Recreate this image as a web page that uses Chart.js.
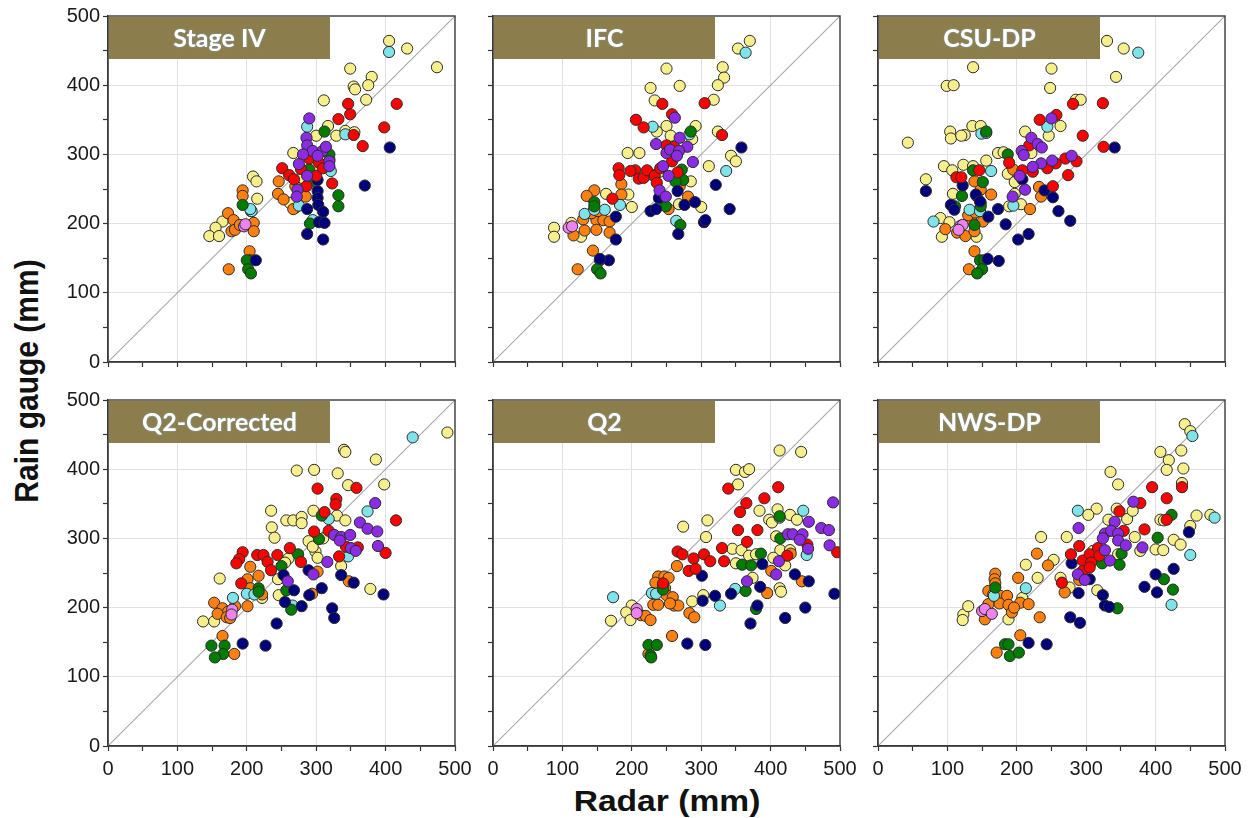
<!DOCTYPE html>
<html><head><meta charset="utf-8">
<script src="https://cdn.jsdelivr.net/npm/chart.js@4/dist/chart.umd.min.js"></script>
<style>
body{margin:0;background:#fff;width:1255px;height:818px;overflow:hidden;position:relative;font-family:"Liberation Sans",Arial,sans-serif}
canvas{position:absolute}
.yt{position:absolute;left:27px;top:381px;transform:translate(-50%,-50%) scaleX(1.12) rotate(-90deg);font-weight:bold;font-size:30px;white-space:nowrap;color:#111}
.xt{position:absolute;left:667px;top:801px;transform:translate(-50%,-50%) scaleX(1.12);font-weight:bold;font-size:30px;white-space:nowrap;color:#111}
</style></head><body>
<div class="yt">Rain gauge (mm)</div>
<div class="xt">Radar (mm)</div>
<script>
// ---- data: [radar, gauge] pairs, per panel and per color group ----
const panelTitles = ['Stage IV','IFC','CSU-DP','Q2-Corrected','Q2','NWS-DP'];
const axisTicks = [0,100,200,300,400,500];

const SIV_yellow=[[405,464],[431,453],[474,426],[349,424],[354,398],[356,394],[380,412],[375,400],[372,379],[311,378],[342,334],[355,332],[329,327],[317,341],[300,327],[267,302],[209,268],[214,261],[215,236],[165,203],[155,194],[146,182],[160,182],[270,223],[280,266],[295,281],[319,293],[262,230],[308,300]];
const SIV_cyan=[[405,448],[342,329],[287,340],[207,218],[205,221],[275,226],[321,276],[295,205]];
const SIV_red=[[346,373],[332,351],[349,358],[354,328],[416,373],[398,339],[367,312],[323,258],[251,280],[261,270],[268,264],[290,294],[304,288],[278,279],[300,269],[286,254],[310,280]];
const SIV_purple=[[290,352],[286,324],[287,313],[295,305],[309,305],[314,311],[281,300],[275,286],[319,290],[319,283],[287,269],[273,249],[272,239],[302,298]];
const SIV_navy=[[406,310],[370,255],[302,263],[302,247],[302,237],[303,227],[287,221],[310,217],[304,202],[312,201],[287,185],[310,177],[213,147]];
const SIV_green=[[312,333],[319,300],[290,278],[291,260],[332,241],[332,225],[291,200],[194,227],[205,147],[200,147],[202,134],[206,128]];
const SIV_orange=[[194,248],[194,240],[173,215],[181,205],[210,201],[206,218],[178,189],[183,191],[210,189],[190,198],[246,261],[245,243],[253,235],[267,221],[270,254],[285,239],[204,160],[174,134]];
const SIV_pink=[[196,196],[198,199]];

const IFC_yellow=[[370,464],[353,453],[250,424],[331,426],[333,411],[227,396],[269,399],[324,400],[233,378],[318,379],[250,341],[236,333],[292,341],[287,322],[256,327],[324,333],[194,302],[211,302],[311,283],[343,298],[350,290],[163,243],[195,242],[200,224],[285,261],[268,228],[300,224],[88,194],[88,181],[127,181],[113,201],[240,275],[230,270]];
const IFC_cyan=[[364,447],[230,340],[283,329],[336,276],[132,214],[183,227],[161,220],[146,220],[264,204]];
const IFC_red=[[244,373],[305,374],[258,358],[206,350],[217,339],[330,328],[250,313],[261,311],[181,280],[182,270],[205,277],[210,265],[217,266],[222,277],[198,276],[233,269],[241,280],[236,259],[258,290],[266,274],[172,236]];
const IFC_purple=[[262,353],[235,315],[269,324],[280,311],[250,302],[255,307],[268,305],[265,298],[288,289],[245,283],[253,269],[240,248],[249,239]];
const IFC_navy=[[358,310],[321,256],[341,221],[304,202],[306,205],[291,231],[276,227],[267,185],[227,218],[235,221],[239,237],[266,247],[177,177],[167,147],[154,149],[177,210]];
const IFC_green=[[285,333],[272,278],[274,263],[263,261],[249,225],[270,198],[146,231],[146,225],[154,147],[150,134],[155,128]];
const IFC_orange=[[146,248],[135,240],[185,257],[185,242],[130,206],[149,205],[159,205],[168,203],[142,215],[151,218],[132,190],[116,183],[149,191],[168,187],[269,254],[281,239],[253,221],[144,161],[122,134]];
const IFC_pink=[[109,194],[114,196]];

const CSU_yellow=[[330,464],[354,453],[250,424],[343,412],[248,396],[137,426],[99,399],[109,400],[285,379],[292,379],[43,317],[104,333],[105,323],[125,328],[120,327],[136,341],[148,341],[212,333],[263,341],[246,327],[173,302],[181,303],[221,302],[95,283],[107,277],[123,285],[137,283],[156,291],[69,264],[108,243],[187,272],[197,260],[197,243],[206,228],[189,225],[90,208],[103,202],[92,181],[142,181]];
const CSU_cyan=[[375,447],[244,340],[149,330],[156,331],[163,276],[80,203],[132,220],[147,218],[195,226]];
const CSU_red=[[281,373],[324,374],[257,357],[233,350],[295,327],[325,311],[218,313],[270,294],[286,290],[256,287],[244,280],[223,275],[208,277],[189,288],[274,270],[252,254],[113,267],[120,267],[146,277]];
const CSU_purple=[[250,352],[221,324],[230,315],[236,310],[207,305],[210,299],[279,298],[251,291],[235,287],[223,282],[204,269],[212,249],[194,239]];
const CSU_navy=[[341,310],[69,247],[122,255],[208,264],[240,248],[252,238],[260,218],[277,204],[105,227],[110,220],[173,221],[159,210],[184,199],[202,177],[217,185],[158,149],[174,146],[141,242],[147,232]];
const CSU_green=[[156,333],[187,300],[137,277],[151,260],[121,240],[111,225],[148,230],[148,225],[139,198],[147,147],[153,147],[150,134],[143,128]];
const CSU_orange=[[139,261],[148,249],[142,240],[163,242],[195,278],[232,253],[235,239],[219,221],[97,192],[114,187],[126,182],[139,189],[151,203],[134,206],[130,212],[140,216],[139,160],[131,134]];
const CSU_pink=[[119,197],[122,198],[116,191]];

const Q2C_yellow=[[489,453],[340,428],[342,425],[386,414],[272,398],[297,399],[331,394],[346,377],[398,378],[235,340],[236,316],[240,301],[257,326],[267,326],[279,331],[279,322],[296,340],[330,333],[342,326],[289,296],[299,281],[302,272],[295,288],[260,271],[255,265],[245,241],[246,218],[222,214],[161,242],[336,260],[378,227],[137,180],[153,180],[310,300]];
const Q2C_cyan=[[439,446],[374,339],[318,328],[346,274],[180,214],[200,220],[211,219],[266,203]];
const Q2C_red=[[302,372],[358,373],[329,357],[328,349],[312,338],[318,311],[297,310],[415,326],[400,279],[360,287],[343,288],[333,274],[194,280],[189,270],[185,264],[215,276],[224,276],[230,266],[235,254],[244,276],[262,286],[278,266],[192,235]];
const Q2C_purple=[[385,351],[363,323],[374,314],[388,310],[326,305],[336,302],[349,305],[334,297],[350,286],[357,282],[389,289],[316,266],[296,248],[259,238]];
const Q2C_navy=[[397,219],[354,236],[336,247],[308,228],[289,254],[290,218],[268,225],[253,247],[255,208],[279,202],[323,199],[326,185],[243,177],[194,148],[227,145]];
const Q2C_green=[[308,333],[304,299],[274,277],[250,260],[217,228],[217,223],[257,225],[264,197],[149,145],[168,145],[166,133],[154,128]];
const Q2C_orange=[[205,259],[201,241],[217,246],[205,228],[222,219],[153,207],[165,199],[173,194],[183,202],[201,202],[158,191],[171,186],[176,185],[302,252],[294,220],[347,238],[165,159],[182,133]];
const Q2C_pink=[[179,197],[178,190]];

const Q2_yellow=[[413,427],[444,425],[350,399],[363,396],[369,400],[353,378],[274,317],[309,326],[307,302],[384,340],[398,327],[402,323],[410,342],[428,334],[438,327],[408,303],[414,283],[428,283],[345,285],[358,283],[369,275],[379,277],[350,264],[374,243],[404,272],[421,261],[413,228],[415,223],[303,218],[287,209],[200,203],[192,193],[198,182],[170,181]];
const Q2_cyan=[[413,330],[447,340],[452,276],[349,227],[327,203],[173,215],[229,221],[235,220]];
const Q2_red=[[339,372],[411,374],[365,351],[391,358],[356,338],[353,312],[381,312],[366,295],[266,281],[273,277],[304,277],[313,267],[330,286],[333,267],[289,271],[282,253],[292,256],[424,275],[453,291],[496,280],[245,235]];
const Q2_purple=[[490,352],[455,324],[473,315],[484,312],[425,306],[432,306],[446,306],[442,298],[454,285],[485,290],[412,267],[408,248],[366,238]];
const Q2_navy=[[492,220],[450,200],[421,185],[435,248],[455,238],[388,263],[385,230],[381,203],[371,177],[343,220],[320,217],[302,210],[301,246],[280,148],[306,146]];
const Q2_green=[[413,332],[414,300],[386,278],[359,262],[372,261],[364,224],[379,198],[245,233],[245,226],[224,146],[236,146],[227,131],[228,128]];
const Q2_orange=[[265,260],[238,245],[247,245],[253,243],[234,236],[248,228],[250,218],[259,215],[261,203],[267,203],[255,206],[231,204],[238,204],[213,189],[220,188],[227,182],[283,192],[290,186],[401,253],[395,221],[429,278],[445,238],[258,159],[224,133]];
const Q2_pink=[[207,198],[207,192]];

const NWS_yellow=[[442,465],[450,455],[407,425],[437,427],[419,413],[416,399],[440,401],[438,380],[335,396],[346,378],[315,343],[303,334],[344,343],[359,328],[367,340],[332,327],[370,302],[407,327],[412,326],[459,333],[479,334],[450,318],[426,298],[436,291],[400,284],[411,283],[378,282],[272,302],[235,302],[253,269],[213,262],[230,243],[263,243],[276,229],[316,225],[310,282],[346,277],[208,214],[123,190],[130,202],[122,182],[188,183]];
const NWS_cyan=[[453,448],[288,340],[485,330],[450,276],[423,204],[213,228],[167,217]];
const NWS_red=[[395,374],[438,374],[416,358],[378,351],[348,339],[416,327],[384,313],[354,311],[290,289],[278,277],[295,268],[305,277],[317,286],[319,275],[307,265],[295,253],[305,258],[265,236]];
const NWS_purple=[[368,353],[341,324],[289,315],[327,307],[336,311],[346,307],[324,300],[346,297],[357,290],[327,283],[334,268],[381,287],[288,248],[298,240]];
const NWS_navy=[[448,309],[426,256],[400,248],[402,222],[384,230],[279,264],[305,241],[289,221],[324,218],[327,203],[333,201],[277,186],[291,178],[217,149],[243,147]];
const NWS_green=[[423,334],[403,301],[351,278],[348,262],[323,264],[412,241],[425,226],[345,199],[169,229],[183,147],[188,147],[190,130],[203,135]];
const NWS_orange=[[169,249],[168,241],[169,235],[159,224],[166,219],[176,217],[186,217],[175,206],[188,204],[205,207],[217,205],[159,205],[193,193],[196,200],[154,183],[202,243],[229,278],[245,261],[233,186],[269,222],[290,240],[205,160],[171,135]];
const NWS_pink=[[150,195],[154,198],[164,191]];

// ---- styling ----
const groupColors = {pink:'#ee82ee',purple:'#8b2be4',red:'#ff0000',navy:'#00007c',green:'#007c00',cyan:'#7fe4ea',orange:'#ff800f',yellow:'#f7ef8c'};
const groupOrder = ['pink','purple','red','navy','green','cyan','orange','yellow']; // first = top-most

const panelData = [
  {pink:SIV_pink,purple:SIV_purple,red:SIV_red,navy:SIV_navy,green:SIV_green,cyan:SIV_cyan,orange:SIV_orange,yellow:SIV_yellow},
  {pink:IFC_pink,purple:IFC_purple,red:IFC_red,navy:IFC_navy,green:IFC_green,cyan:IFC_cyan,orange:IFC_orange,yellow:IFC_yellow},
  {pink:CSU_pink,purple:CSU_purple,red:CSU_red,navy:CSU_navy,green:CSU_green,cyan:CSU_cyan,orange:CSU_orange,yellow:CSU_yellow},
  {pink:Q2C_pink,purple:Q2C_purple,red:Q2C_red,navy:Q2C_navy,green:Q2C_green,cyan:Q2C_cyan,orange:Q2C_orange,yellow:Q2C_yellow},
  {pink:Q2_pink,purple:Q2_purple,red:Q2_red,navy:Q2_navy,green:Q2_green,cyan:Q2_cyan,orange:Q2_orange,yellow:Q2_yellow},
  {pink:NWS_pink,purple:NWS_purple,red:NWS_red,navy:NWS_navy,green:NWS_green,cyan:NWS_cyan,orange:NWS_orange,yellow:NWS_yellow}
];

const colLeft=[108,493,878], rowTop=[16,400], W=347, H=346;
const padL=70, padT=14, padR=26, padB=46;

const framePlugin = {
  id:'frameTitle',
  afterDraw(chart, args, opts){
    const {ctx, chartArea:a} = chart;
    ctx.save();
    ctx.strokeStyle='#3a3a3a'; ctx.lineWidth=1.4;
    ctx.strokeRect(a.left, a.top, a.right-a.left, a.bottom-a.top);
    const bw=Math.round((a.right-a.left)*0.637), bh=42;
    ctx.fillStyle='#8c7e4c';
    ctx.fillRect(a.left+1, a.top+1, bw, bh);
    ctx.fillStyle='#ffffff';
    ctx.font='bold 25px Lato, "Open Sans", sans-serif';
    ctx.textAlign='center'; ctx.textBaseline='middle';
    ctx.shadowColor='rgba(120,190,255,0.7)'; ctx.shadowBlur=2;
    ctx.fillText(opts.title, a.left+1+bw/2, a.top+1+bh/2+1);
    ctx.restore();
  }
};

function gridColor(ctx){
  const v = ctx.tick ? ctx.tick.value : 0;
  return (v%100===0 && v>0 && v<500) ? '#e2e2e2' : 'rgba(0,0,0,0)';
}

panelData.forEach((groups, idx)=>{
  const col=idx%3, row=Math.floor(idx/3);
  const cv=document.createElement('canvas');
  cv.width=padL+W+padR; cv.height=padT+H+padB;
  cv.style.left=(colLeft[col]-padL)+'px'; cv.style.top=(rowTop[row]-padT)+'px';
  cv.style.width=cv.width+'px'; cv.style.height=cv.height+'px';
  document.body.appendChild(cv);
  const datasets = groupOrder.map(g=>({
    type:'scatter',
    data: groups[g].map(p=>({x:p[0],y:p[1]})),
    backgroundColor: groupColors[g],
    borderColor:'#2b2b2b',
    borderWidth:1,
    pointRadius:5.6
  }));
  datasets.push({type:'line', data:[{x:axisTicks[0],y:axisTicks[0]},{x:axisTicks[axisTicks.length-1],y:axisTicks[axisTicks.length-1]}], borderColor:'#a8a8a8', borderWidth:1.1, pointRadius:0, fill:false});
  new Chart(cv, {
    type:'scatter',
    data:{datasets},
    options:{
      responsive:false, animation:false, events:[],
      layout:{padding:{left:0, top:padT, right:padR, bottom:0}},
      plugins:{legend:{display:false}, tooltip:{enabled:false}, frameTitle:{title:panelTitles[idx]}},
      scales:{
        x:{type:'linear', min:0, max:500,
          ticks:{stepSize:50, autoSkip:false, maxRotation:0, padding:6, color:'#1a1a1a',
            font:{family:'"Liberation Sans", Arial, sans-serif', size:20},
            callback:v=> (row===1 && axisTicks.includes(v)) ? String(v) : ''},
          grid:{color:gridColor, lineWidth:1, tickColor:'#333', tickLength:5, tickWidth:1.2},
          border:{display:true, color:'#3a3a3a', width:1.4},
          afterFit:s=>{s.height=padB; s.paddingLeft=0; s.paddingRight=0;}
        },
        y:{type:'linear', min:0, max:500,
          ticks:{stepSize:50, autoSkip:false, padding:3, color:'#1a1a1a',
            font:{family:'"Liberation Sans", Arial, sans-serif', size:20},
            callback:v=> (col===0 && axisTicks.includes(v)) ? String(v) : ''},
          grid:{color:gridColor, lineWidth:1, tickColor:'#333', tickLength:5, tickWidth:1.2},
          border:{display:true, color:'#3a3a3a', width:1.4},
          afterFit:s=>{s.width=padL; s.paddingTop=0; s.paddingBottom=0;}
        }
      }
    },
    plugins:[framePlugin]
  });
});
</script>
</body></html>
